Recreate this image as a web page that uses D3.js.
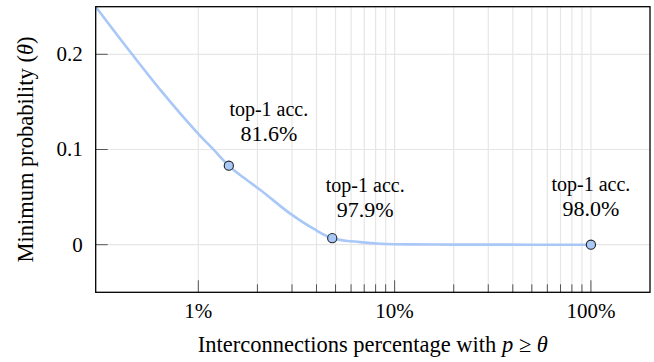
<!DOCTYPE html>
<html>
<head>
<meta charset="utf-8">
<script src="https://cdn.jsdelivr.net/npm/d3@7"></script>
<style>
  html, body { margin: 0; padding: 0; background: #fff; }
  svg { display: block; }
  text { font-family: "Liberation Serif", "Times New Roman", serif; fill: #000; }
</style>
</head>
<body>
<svg id="chart" width="654" height="362"></svg>
<script>
// Threshold curve: percentage of interconnections kept (x, %) vs. minimum probability θ (y)
const curvePct   = [0.30, 0.46, 0.65, 1.0, 1.2, 1.43, 1.7, 2.07, 2.94, 3.86, 4.81, 6.67, 8.5, 12, 20, 50, 100];
const curveTheta = [0.25, 0.2, 0.161, 0.1165, 0.0995, 0.083, 0.0705, 0.0575, 0.0326, 0.0168, 0.0069, 0.0027, 0.001, 0.0003, 0.0001, 0.0, 0.0];

// Marked operating points and their accuracy
const markPct   = [1.43, 4.81, 100];
const markTheta = [0.083, 0.0069, 0.0];
const markAcc   = [81.6, 97.9, 98.0];

// Axis ticks
const xMajorTicks = [1, 10, 100];
const xMinorTicks = [2, 3, 4, 5, 6, 7, 8, 9, 20, 30, 40, 50, 60, 70, 80, 90];
const yTicks = [0, 0.1, 0.2];
const yTickLabels = ["0", "0.1", "0.2"];

const width = 654, height = 362;
const margin = { top: 6.7, right: 4, bottom: 69.7, left: 95.7 };
const iw = width - margin.left - margin.right;
const ih = height - margin.top - margin.bottom;

const svg = d3.select("#chart");
const g = svg.append("g").attr("transform", `translate(${margin.left},${margin.top})`);

const x = d3.scaleLog().domain([0.3, 200]).range([0, iw]);
const y = d3.scaleLinear().domain([-0.05, 0.25]).range([ih, 0]);

// grid
const gridColor = "#e6e6e6";
g.append("g").selectAll("line.vg")
  .data(xMajorTicks.concat(xMinorTicks))
  .join("line")
  .attr("x1", d => x(d)).attr("x2", d => x(d))
  .attr("y1", 0).attr("y2", ih)
  .attr("stroke", gridColor).attr("stroke-width", 1.2);
g.append("g").selectAll("line.hg")
  .data(yTicks)
  .join("line")
  .attr("x1", 0).attr("x2", iw)
  .attr("y1", d => y(d)).attr("y2", d => y(d))
  .attr("stroke", gridColor).attr("stroke-width", 1.2);

// tick marks (drawn inward)
const tickColor = "#555";
g.append("g").selectAll("line")
  .data(xMajorTicks)
  .join("line")
  .attr("x1", d => x(d)).attr("x2", d => x(d))
  .attr("y1", ih).attr("y2", ih - 12)
  .attr("stroke", tickColor).attr("stroke-width", 1);
g.append("g").selectAll("line")
  .data(xMinorTicks)
  .join("line")
  .attr("x1", d => x(d)).attr("x2", d => x(d))
  .attr("y1", ih).attr("y2", ih - 8)
  .attr("stroke", tickColor).attr("stroke-width", 1);
g.append("g").selectAll("line")
  .data(yTicks)
  .join("line")
  .attr("x1", 0).attr("x2", 12)
  .attr("y1", d => y(d)).attr("y2", d => y(d))
  .attr("stroke", tickColor).attr("stroke-width", 1);

// tick labels
g.append("g").selectAll("text")
  .data(xMajorTicks)
  .join("text")
  .attr("x", d => x(d)).attr("y", ih + 25.5)
  .attr("text-anchor", "middle")
  .attr("font-size", 21)
  .text(d => d + "%");
g.append("g").selectAll("text")
  .data(yTicks)
  .join("text")
  .attr("x", -13).attr("y", d => y(d) + 7)
  .attr("text-anchor", "end")
  .attr("font-size", 21)
  .text((d, i) => yTickLabels[i]);

// curve
const pts = curvePct.map((p, i) => [x(p), y(curveTheta[i])]);
g.append("path")
  .attr("d", d3.line().curve(d3.curveMonotoneX)(pts))
  .attr("fill", "none")
  .attr("stroke", "#a9c8f7")
  .attr("stroke-width", 2.6)
  .attr("stroke-linejoin", "round");

// marked points
g.append("g").selectAll("circle")
  .data(markPct)
  .join("circle")
  .attr("cx", d => x(d))
  .attr("cy", (d, i) => y(markTheta[i]))
  .attr("r", 4.6)
  .attr("fill", "#a9c8f7")
  .attr("stroke", "#222")
  .attr("stroke-width", 1.1);

// annotations placed relative to each point
const labelOffsets = [[40, -50], [33, -46], [0, -54]];
const ann = g.append("g").selectAll("g")
  .data(markPct)
  .join("g")
  .attr("transform", (d, i) => `translate(${x(d) + labelOffsets[i][0]},${y(markTheta[i]) + labelOffsets[i][1]})`);
ann.append("text")
  .attr("text-anchor", "middle")
  .attr("font-size", 20)
  .text("top-1 acc.");
ann.append("text")
  .attr("y", 25)
  .attr("text-anchor", "middle")
  .attr("font-size", 22)
  .text((d, i) => markAcc[i].toFixed(1) + "%");

// frame
g.append("rect")
  .attr("x", 0).attr("y", 0).attr("width", iw).attr("height", ih)
  .attr("fill", "none").attr("stroke", "#000").attr("stroke-width", 1.3);

// axis titles
const xt = svg.append("text")
  .attr("x", margin.left + iw / 2).attr("y", 352)
  .attr("text-anchor", "middle")
  .attr("font-size", 22.5);
xt.append("tspan").text("Interconnections percentage with ");
xt.append("tspan").attr("font-style", "italic").text("p");
xt.append("tspan").text(" ≥ ");
xt.append("tspan").attr("font-style", "italic").text("θ");

const yt = svg.append("text")
  .attr("transform", `translate(33,${margin.top + ih / 2}) rotate(-90)`)
  .attr("text-anchor", "middle")
  .attr("font-size", 22.5);
yt.append("tspan").text("Minimum probability (");
yt.append("tspan").attr("font-style", "italic").text("θ");
yt.append("tspan").text(")");
</script>
</body>
</html>
